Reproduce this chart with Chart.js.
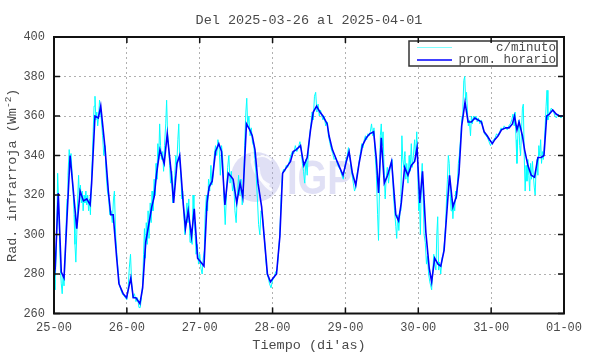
<!DOCTYPE html>
<html><head><meta charset="utf-8">
<script src="https://cdn.jsdelivr.net/npm/chart.js@4/dist/chart.umd.min.js"></script>
<style>html,body{margin:0;padding:0;background:#fff}canvas{display:block}</style>
</head><body>
<canvas id="c" width="590" height="354"></canvas>
<script>
const titleText = "Del 2025-03-26 al 2025-04-01";
const xAxisTitle = "Tiempo (di'as)";
const yAxisTitle = "Rad. infrarroja (Wm";
const yAxisTitleSup = "-2";
const yAxisTitleEnd = ")";
const seriesNames = ["c/minuto", "prom. horario"];
const xTickLabels = ["25-00","26-00","27-00","28-00","29-00","30-00","31-00","01-00"];
const yTickValues = [260,280,300,320,340,360,380,400];
const watermarkText = "IGP";

// hours since 25-00, value (W m^-2)
const minuteSeries = [
[0,277],[0.3,272],[0.6,285],[0.9,300],[1.2,331],[1.5,318],[1.8,300],[2.1,283],[2.4,275],[2.7,270],[3.0,279],[3.3,274],[3.7,290],[4.0,305],[4.3,318],[4.6,330],[5.0,343],[5.3,338],[5.6,341],[6.0,330],[6.3,322],[6.6,310],[6.9,295],[7.2,286],[7.5,300],[7.8,318],[8.1,330],[8.4,318],[8.7,325],[9.0,316],[9.3,322],[9.6,312],[9.9,320],[10.2,316],[10.5,322],[10.8,315],[11.1,320],[11.4,312],[11.7,318],[12.0,310],[12.3,326],[12.6,338],[12.9,352],[13.2,365],[13.5,370],[13.8,358],[14.1,362],[14.4,355],[14.7,360],[15.0,368],[15.3,362],[15.6,358],[16.0,350],[16.4,340],[16.8,345],[17.2,330],[17.6,322],[18.0,318],[18.4,310],[18.8,312],[19.2,306],[19.6,318],[19.9,322],[20.3,300],[20.7,290],[21.1,282],[21.5,275],[22.0,272],[22.5,270],[23.0,269],[23.5,268],[24.0,267],[24.4,272],[24.8,283],[25.2,290],[25.6,275],[26.0,268],[26.5,270],[27.0,266],[27.5,268],[28.0,263],[28.4,263],[28.8,268],[29.2,275],[29.5,290],[29.8,303],[30.1,288],[30.4,306],[30.7,295],[31.0,312],[31.3,298],[31.7,316],[32.0,306],[32.3,322],[32.6,312],[33.0,328],[33.3,320],[33.6,336],[33.9,328],[34.2,346],[34.5,338],[34.8,356],[35.1,345],[35.4,338],[35.8,342],[36.1,332],[36.4,345],[36.8,356],[37.1,368],[37.4,352],[37.8,342],[38.1,335],[38.4,326],[38.8,332],[39.1,316],[39.4,322],[39.8,330],[40.1,340],[40.4,334],[40.8,348],[41.1,356],[41.4,338],[41.8,330],[42.1,318],[42.4,322],[42.8,310],[43.1,300],[43.4,308],[43.8,316],[44.1,306],[44.4,318],[44.8,296],[45.1,302],[45.5,295],[45.8,320],[46.1,310],[46.5,300],[46.8,290],[47.2,295],[47.6,285],[48.0,290],[48.4,283],[48.8,280],[49.1,287],[49.5,292],[49.8,310],[50.2,320],[50.6,312],[50.9,328],[51.3,322],[51.7,335],[52.0,325],[52.4,330],[52.8,340],[53.2,345],[53.6,340],[54.0,348],[54.4,344],[54.8,330],[55.2,345],[55.6,338],[56.0,318],[56.4,305],[56.8,320],[57.2,334],[57.6,340],[58.0,326],[58.4,332],[58.8,322],[59.2,326],[59.6,312],[60.0,306],[60.4,320],[60.8,330],[61.2,320],[61.6,328],[62.0,315],[62.4,322],[62.8,345],[63.2,362],[63.5,369],[63.8,355],[64.2,360],[64.6,350],[65.0,354],[65.4,346],[65.8,345],[66.2,338],[66.6,330],[67.0,318],[67.4,305],[67.8,300],[68.2,312],[68.6,310],[69.0,302],[69.4,296],[69.8,287],[70.2,280],[70.6,278],[71.0,275],[71.5,273],[72.0,277],[72.5,278],[73.0,281],[73.5,282],[74.0,292],[74.4,300],[74.8,318],[75.2,330],[75.6,333],[76.0,332],[76.5,335],[77.0,334],[77.5,337],[78.0,340],[78.5,342],[79.0,341],[79.5,345],[80.0,342],[80.5,344],[81.0,347],[81.4,344],[81.8,336],[82.2,332],[82.6,326],[83.0,338],[83.4,330],[83.8,342],[84.2,350],[84.6,355],[85.0,362],[85.4,358],[85.8,370],[86.2,372],[86.6,362],[87.0,366],[87.4,360],[87.8,363],[88.2,360],[88.6,358],[89.0,360],[89.5,355],[90.0,357],[90.4,350],[90.8,347],[91.2,344],[91.8,341],[92.3,338],[92.8,339],[93.3,336],[93.8,334],[94.3,333],[94.8,330],[95.3,328],[95.8,334],[96.2,338],[96.6,340],[97.0,344],[97.4,340],[97.8,334],[98.2,330],[98.6,326],[99.0,322],[99.4,324],[99.8,330],[100.2,334],[100.6,338],[101.0,342],[101.4,346],[101.8,344],[102.2,348],[102.6,350],[103.0,348],[103.4,351],[103.8,350],[104.2,352],[104.6,356],[105.0,350],[105.4,354],[105.8,340],[106.2,330],[106.6,310],[106.9,297],[107.2,322],[107.5,350],[107.8,356],[108.1,345],[108.4,352],[108.8,330],[109.1,318],[109.4,328],[109.8,334],[110.2,326],[110.6,332],[111.0,336],[111.4,338],[111.8,320],[112.2,312],[112.6,304],[112.9,298],[113.2,310],[113.6,302],[114.0,312],[114.3,322],[114.6,350],[114.9,338],[115.2,334],[115.6,342],[115.9,328],[116.2,336],[116.6,326],[117.0,340],[117.3,332],[117.7,346],[118.0,334],[118.4,340],[118.8,348],[119.1,338],[119.5,352],[119.8,335],[120.1,312],[120.4,316],[120.7,300],[121.0,328],[121.3,336],[121.6,320],[121.9,300],[122.3,296],[122.7,285],[123.0,289],[123.4,280],[123.8,276],[124.1,274],[124.4,272],[124.8,282],[125.1,290],[125.4,285],[125.8,282],[126.1,300],[126.4,309],[126.7,282],[127.0,286],[127.4,280],[127.8,288],[128.2,290],[128.6,296],[129.0,305],[129.3,318],[129.6,328],[129.9,340],[130.2,336],[130.5,322],[130.8,312],[131.1,318],[131.4,308],[131.7,316],[132.0,312],[132.3,322],[132.6,318],[132.9,326],[133.2,336],[133.5,340],[133.8,346],[134.1,352],[134.4,360],[134.7,365],[135.0,378],[135.3,380],[135.6,368],[135.9,372],[136.2,362],[136.5,355],[136.8,358],[137.2,350],[137.5,360],[137.8,356],[138.2,360],[138.6,358],[139.0,360],[139.4,357],[139.8,359],[140.3,356],[140.8,358],[141.3,354],[141.8,351],[142.3,350],[142.8,349],[143.3,347],[143.8,345],[144.3,347],[144.8,348],[145.3,349],[145.8,351],[146.3,350],[146.8,352],[147.3,354],[147.8,353],[148.3,355],[148.8,354],[149.3,353],[149.8,355],[150.3,356],[150.8,358],[151.2,361],[151.6,355],[151.9,362],[152.2,348],[152.5,336],[152.8,350],[153.1,358],[153.4,345],[153.7,340],[154.0,352],[154.3,364],[154.6,366],[154.9,340],[155.2,322],[155.5,335],[155.8,327],[156.1,338],[156.4,330],[156.7,322],[157.0,336],[157.3,328],[157.6,337],[157.9,330],[158.2,324],[158.5,320],[158.8,333],[159.1,338],[159.4,330],[159.7,345],[160.0,340],[160.3,348],[160.6,336],[160.9,342],[161.2,338],[161.5,345],[161.8,355],[162.1,365],[162.4,373],[162.7,358],[163.0,360],[163.4,362],[163.8,364],[164.2,363],[164.6,362],[165.0,360],[165.5,359],[166.0,361],[166.5,360],[167.0,359],[167.5,360],[167.9,360]
];
const hourlySeries = [
[0,278],[0.4,283],[1.4,321],[2.4,281],[3.3,278],[5.3,340],[7.5,303],[8.6,322],[9.7,317],[10.8,318],[11.9,315],[12.4,326],[13.5,360],[14.6,359],[15.4,365],[16.8,344],[17.9,322],[18.7,310],[19.5,310],[20.6,289],[21.4,275],[22.8,270],[23.9,268],[25.3,278],[26.1,268],[27.0,268],[28.3,265],[29.2,273],[30.2,296],[31.1,304],[32.2,314],[33.0,319],[33.8,331],[34.9,343],[36.3,336],[37.3,351],[38.7,330],[39.4,316],[40.5,336],[41.4,340],[42.6,315],[43.3,303],[44.2,312],[45.3,299],[46.2,313],[47.3,288],[48.4,286],[49.4,284],[50.4,316],[51.1,324],[52.1,327],[53.2,342],[54.3,346],[55.2,342],[56.3,315],[57.4,331],[58.5,329],[59.0,328],[60.2,316],[61.3,326],[62.2,319],[63.4,356],[64.5,353],[65.3,350],[66.2,343],[67.2,326],[68.4,314],[69.4,296],[70.3,280],[71.3,276],[72.2,278],[73.3,280],[74.4,299],[75.3,331],[76.6,334],[77.9,337],[78.8,342],[79.8,343],[81.2,345],[82.3,335],[83.4,339],[84.5,353],[85.4,362],[86.5,365],[87.6,362],[88.6,360],[90.0,356],[90.6,350],[91.7,343],[93.0,338],[94.1,334],[95.2,330],[96.3,337],[97.2,342],[98.3,331],[99.4,325],[100.5,336],[101.6,345],[102.9,349],[104.0,351],[105.3,352],[106.2,338],[106.9,321],[107.8,349],[108.8,326],[109.9,330],[111.2,337],[112.6,310],[113.5,307],[114.4,316],[115.5,334],[116.6,330],[117.7,335],[118.8,337],[119.6,344],[120.5,316],[121.4,332],[122.5,301],[123.6,283],[124.4,276],[125.4,288],[126.5,285],[127.4,284],[128.5,292],[129.3,309],[130.3,330],[131.4,314],[132.5,319],[133.4,331],[134.3,355],[135.4,367],[136.4,357],[137.5,357],[138.6,359],[139.7,358],[140.8,357],[141.7,352],[142.7,350],[143.5,348],[144.4,346],[145.2,348],[146.3,350],[147.4,353],[148.8,354],[149.9,354],[151.0,356],[151.7,360],[152.5,353],[153.2,357],[154.3,350],[155.0,343],[156.1,335],[157.2,330],[158.3,329],[159.4,339],[160.5,339],[161.4,340],[162.3,360],[163.2,361],[164.3,363],[165.4,361],[166.5,360],[167.6,360]
];

const MONO = '"Liberation Mono", "DejaVu Sans Mono", monospace';
const TEXT_COLOR = '#4a4a4a';

const decor = {
  id: 'decor',
  beforeDatasetsDraw(chart) {
    const ctx = chart.ctx;
    ctx.save();
    ctx.fillStyle = 'rgba(165,165,225,0.35)';
    ctx.beginPath(); ctx.arc(256, 177, 25, 0, Math.PI * 2); ctx.fill();
    ctx.strokeStyle = 'rgba(255,255,255,0.85)';
    ctx.lineWidth = 3;
    ctx.beginPath(); ctx.arc(282, 158, 30, 2.0, 3.3); ctx.stroke();
    ctx.beginPath(); ctx.arc(286, 166, 28, 2.1, 3.1); ctx.stroke();
    ctx.lineWidth = 2;
    ctx.beginPath(); ctx.arc(262, 168, 12, 3.6, 5.6); ctx.stroke();
    ctx.fillStyle = 'rgba(165,165,225,0.35)';
    ctx.font = 'bold 49px "Liberation Sans", Arial, sans-serif';
    ctx.textBaseline = 'alphabetic';
    ctx.translate(287, 194);
    ctx.scale(0.78, 1);
    ctx.fillText(watermarkText, 0, 0);
    ctx.restore();
  },
  afterDraw(chart) {
    const ctx = chart.ctx;
    const a = chart.chartArea;
    const xs = chart.scales.x, ys = chart.scales.y;
    ctx.save();
    const lx0 = 409, ly0 = 41, lx1 = 557, ly1 = 66;
    ctx.fillStyle = '#fff';
    ctx.fillRect(lx0, ly0, lx1 - lx0, ly1 - ly0);
    ctx.strokeStyle = '#333'; ctx.lineWidth = 1.5;
    ctx.strokeRect(lx0, ly0, lx1 - lx0, ly1 - ly0);
    ctx.lineWidth = 1; ctx.strokeStyle = '#80ffff';
    ctx.beginPath(); ctx.moveTo(417, 47.5); ctx.lineTo(452, 47.5); ctx.stroke();
    ctx.lineWidth = 1.6; ctx.strokeStyle = '#0000ff';
    ctx.beginPath(); ctx.moveTo(417, 60); ctx.lineTo(452, 60); ctx.stroke();
    ctx.fillStyle = TEXT_COLOR;
    ctx.font = '12.5px ' + MONO;
    ctx.textAlign = 'right'; ctx.textBaseline = 'middle';
    ctx.fillText(seriesNames[0], 556, 47.5);
    ctx.fillText(seriesNames[1], 556, 60);
    ctx.strokeStyle = '#111'; ctx.lineWidth = 2;
    ctx.strokeRect(a.left, a.top, a.right - a.left, a.bottom - a.top);
    ctx.lineWidth = 1.5;
    ctx.beginPath();
    for (let i = 0; i < xTickLabels.length; i++) {
      const px = xs.getPixelForValue(i * 24);
      ctx.moveTo(px, a.top); ctx.lineTo(px, a.top + 6);
      ctx.moveTo(px, a.bottom); ctx.lineTo(px, a.bottom - 6);
    }
    for (const v of yTickValues) {
      const py = ys.getPixelForValue(v);
      ctx.moveTo(a.left, py); ctx.lineTo(a.left + 6, py);
      ctx.moveTo(a.right, py); ctx.lineTo(a.right - 6, py);
    }
    ctx.stroke();
    ctx.fillStyle = TEXT_COLOR;
    ctx.textAlign = 'center'; ctx.textBaseline = 'middle';
    ctx.font = '13.5px ' + MONO;
    ctx.fillText(titleText, (a.left + a.right) / 2, 20);
    ctx.fillText(xAxisTitle, (a.left + a.right) / 2, 345);
    ctx.translate(12, (a.top + a.bottom) / 2);
    ctx.rotate(-Math.PI / 2);
    const mainW = ctx.measureText(yAxisTitle).width;
    const endW = ctx.measureText(yAxisTitleEnd).width;
    ctx.font = '9.5px ' + MONO;
    const supW = ctx.measureText(yAxisTitleSup).width;
    const total = mainW + supW + endW;
    let x = -total / 2;
    ctx.textAlign = 'left';
    ctx.font = '13.5px ' + MONO;
    ctx.fillText(yAxisTitle, x, 0); x += mainW;
    ctx.font = '9.5px ' + MONO;
    ctx.fillText(yAxisTitleSup, x, -4); x += supW;
    ctx.font = '13.5px ' + MONO;
    ctx.fillText(yAxisTitleEnd, x, 0);
    ctx.restore();
  }
};

new Chart(document.getElementById('c'), {
  type: 'line',
  data: {
    datasets: [
      {
        label: seriesNames[1],
        data: hourlySeries.map(p => ({ x: p[0], y: p[1] })),
        borderColor: '#0000ff', borderWidth: 1.6, pointRadius: 0, tension: 0, fill: false
      },
      {
        label: seriesNames[0],
        data: minuteSeries.map(p => ({ x: p[0], y: p[1] })),
        borderColor: '#00ffff', borderWidth: 1, pointRadius: 0, tension: 0, fill: false
      }
    ]
  },
  options: {
    responsive: false, animation: false, devicePixelRatio: 1,
    layout: { padding: { left: 0, right: 26, top: 37, bottom: 0 } },
    plugins: { legend: { display: false }, title: { display: false }, tooltip: { enabled: false } },
    scales: {
      x: {
        type: 'linear', min: 0, max: 168,
        afterBuildTicks: s => { s.ticks = xTickLabels.map((_, i) => ({ value: i * 24 })); },
        ticks: {
          callback: v => xTickLabels[Math.round(v / 24)],
          font: { family: MONO, size: 12 }, color: TEXT_COLOR, padding: 7,
          maxRotation: 0, autoSkip: false
        },
        grid: { color: '#b0b0b0', lineWidth: 1, drawTicks: false },
        border: { display: false, dash: [2, 3] },
        afterFit: s => { s.height = 40.5; }
      },
      y: {
        min: 260, max: 400,
        afterBuildTicks: s => { s.ticks = yTickValues.map(v => ({ value: v })); },
        ticks: {
          font: { family: MONO, size: 12 }, color: TEXT_COLOR, padding: 9
        },
        grid: { color: '#b0b0b0', lineWidth: 1, drawTicks: false },
        border: { display: false, dash: [2, 3] },
        afterFit: s => { s.width = 54; }
      }
    }
  },
  plugins: [decor]
});
</script>
</body></html>
